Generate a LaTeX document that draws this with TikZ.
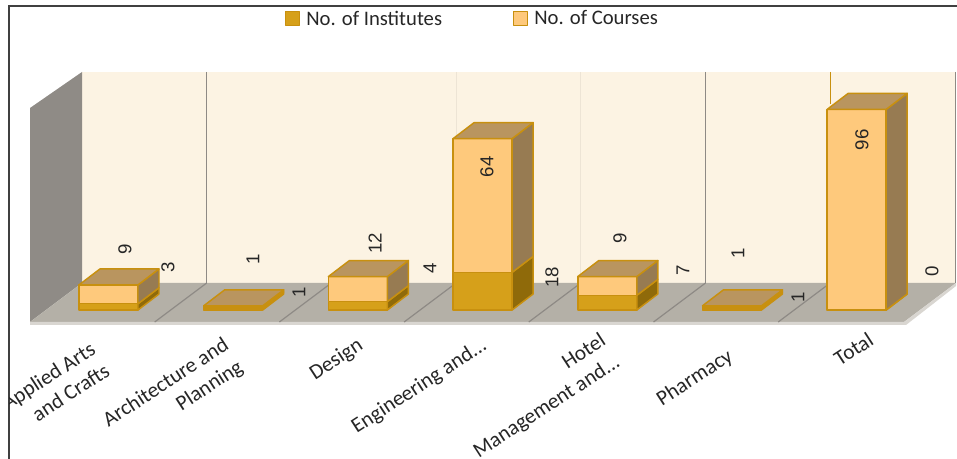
\documentclass[tikz,border=0pt]{standalone}
\usepackage{fontspec}
\setmainfont{Carlito}
\newfontfamily\numfont{Liberation Sans}
\usetikzlibrary{positioning}
\definecolor{wallback}{HTML}{FCF3E3}
\definecolor{wallside}{HTML}{8F8B86}
\definecolor{floorgray}{HTML}{B4B0A7}
\definecolor{flooredge}{HTML}{D9D6D1}
\definecolor{gridgray}{HTML}{8E8A85}
\definecolor{instfront}{HTML}{D6A01A}
\definecolor{instside}{HTML}{8F6A0A}
\definecolor{crsfront}{HTML}{FEC97C}
\definecolor{crsside}{HTML}{977B52}
\definecolor{bartop}{HTML}{B9955F}
\definecolor{baredge}{HTML}{C8900F}
\tikzset{
  face/.style={draw=baredge, line width=1.1pt, line join=round},
  datalabel/.style={font=\numfont\fontsize{14}{14}\selectfont, rotate=90, inner sep=0pt, text=black!85},
  catlabel/.style={font=\fontsize{16}{19.5}\selectfont, rotate=33, align=right, anchor=north east, inner sep=0pt, text=black!85},
  legendtext/.style={font=\fontsize{15.5}{18}\selectfont, anchor=west, inner sep=0pt, text=black!85},
  gridline/.style={draw=gridgray, line width=0.9pt}
}

\begin{document}
\begin{tikzpicture}[x=0.75pt, y=-0.75pt]
  \useasboundingbox (0,0) rectangle (957,459);

  % frame
  \draw[black!75, line width=1.1pt] (957,6) -- (9,6) -- (9,459);

  % legend
  \draw[face, line width=0.6pt, fill=instfront] (285,11) rectangle (299,25);
  \node[legendtext] (leginst) at (306,18) {No. of Institutes};
  \draw[face, line width=0.6pt, fill=crsfront] (513,11) rectangle (527,25);
  \node[legendtext] (legcrs) at (534,18) {No. of Courses};

  % walls and floor
  \fill[wallback] (82,72) rectangle (956,283);
  \fill[wallside] (30,108) -- (82,72) -- (82,283) -- (30,322) -- cycle;
  \fill[floorgray] (30,322) -- (82,283) -- (956,283) -- (904,322) -- cycle;
  \fill[flooredge] (30,322) -- (904,322) -- (956,283) -- (956,286) -- (906,325) -- (30,325) -- cycle;
  \foreach \k in {3,4,5}
    \draw[wallback!90!black!60!wallback, line width=0.6pt] (82+124.7*\k,72) -- (82+124.7*\k,283);
  \draw[gridline] (206.7,72) -- (206.7,283);
  \draw[gridline] (705.6,72) -- (705.6,283);
  \draw[gridline] (955.5,72) -- (955.5,283);
  \draw[baredge, line width=0.9pt] (830.3,72) -- (830.3,104);
  \foreach \k in {1,...,6}
    \draw[gridline] (82+124.7*\k,283) -- (30+124.7*\k,322);

  % bars: institutes below, courses on top
  \foreach \i/\inst/\crs in {0/3/9, 1/1/1, 2/4/12, 3/18/64, 4/7/9, 5/1/1, 6/0/96}{
    \pgfmathsetmacro{\xl}{79+124.7*\i}
    \pgfmathsetmacro{\xr}{\xl+59}
    \pgfmathsetmacro{\ym}{310-2.09*\inst}
    \pgfmathsetmacro{\yt}{310-2.09*(\inst+\crs)}
    \draw[face, fill=instfront] (\xl,310) rectangle (\xr,\ym);
    \draw[face, fill=instside] (\xr,310) -- (\xr+21,294) -- (\xr+21,\ym-16) -- (\xr,\ym) -- cycle;
    \draw[face, fill=crsfront] (\xl,\ym) rectangle (\xr,\yt);
    \draw[face, fill=crsside] (\xr,\ym) -- (\xr+21,\ym-16) -- (\xr+21,\yt-16) -- (\xr,\yt) -- cycle;
    \draw[face, fill=bartop] (\xl,\yt) -- (\xl+21,\yt-16) -- (\xr+21,\yt-16) -- (\xr,\yt) -- cycle;
  }

  % data labels
  \node[datalabel] (crs1) at (125,249) {9};
  \node[datalabel] (inst1) at (168,267) {3};
  \node[datalabel] (crs2) at (253,259) {1};
  \node[datalabel] (inst2) at (299,292) {1};
  \node[datalabel] (crs3) at (375,243) {12};
  \node[datalabel] (inst3) at (430,268) {4};
  \node[datalabel] (crs4) at (487,167) {64};
  \node[datalabel] (inst4) at (552,277) {18};
  \node[datalabel] (crs5) at (620,238) {9};
  \node[datalabel] (inst5) at (683,270) {7};
  \node[datalabel] (crs6) at (738,253) {1};
  \node[datalabel] (inst6) at (798,297) {1};
  \node[datalabel] (crs7) at (862,140) {96};
  \node[datalabel] (inst7) at (932,271) {0};

  % category labels
  \begin{scope}
    \clip (9,6) rectangle (957,459);
    \node[catlabel] (cat1) at (89,340) {Applied Arts\\and Crafts};
    \node[catlabel] (cat2) at (222,336) {Architecture and\\Planning};
    \node[catlabel] (cat3) at (356,336) {Design};
    \node[catlabel] (cat4) at (480,336) {Engineering and...};
    \node[catlabel] (cat5) at (599,331) {Hotel\\Management and...};
    \node[catlabel] (cat6) at (726,347) {Pharmacy};
    \node[catlabel] (cat7) at (867,331) {Total};
  \end{scope}
\end{tikzpicture}
\end{document}
